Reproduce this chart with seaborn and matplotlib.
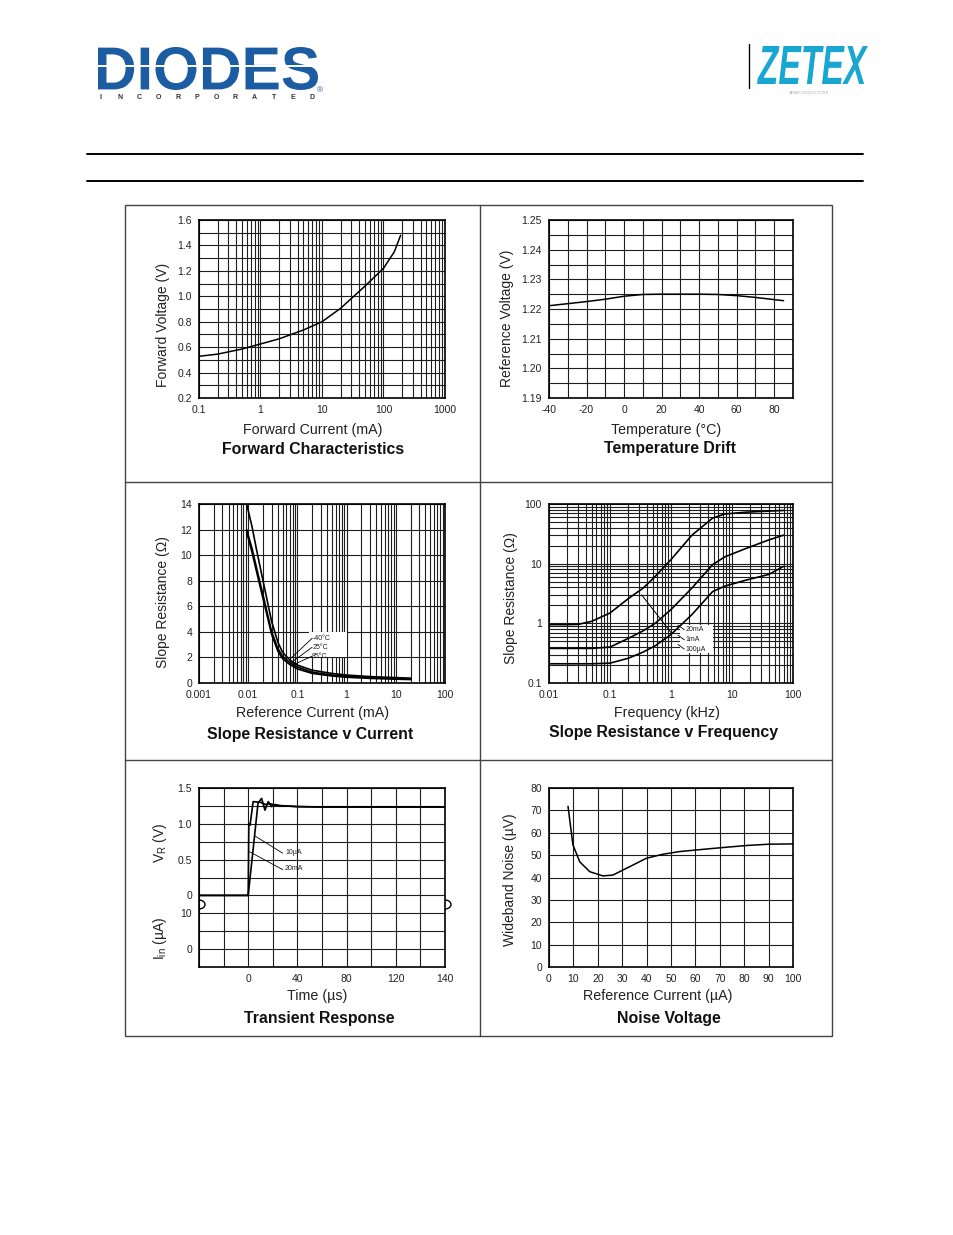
""" Datasheet page with six typical characteristic charts, redrawn with seaborn """
import numpy as np
import matplotlib
matplotlib.use('Agg')
import matplotlib.pyplot as plt
import seaborn as sns
from matplotlib.ticker import FixedLocator, LogLocator, MultipleLocator, NullFormatter
from matplotlib.patches import Rectangle, Arc, PathPatch
from matplotlib.textpath import TextPath
from matplotlib.font_manager import FontProperties
from matplotlib.transforms import Affine2D

""" Forward characteristics """
fwd_current = [0.1, 0.2, 0.5, 1, 2, 5, 10, 20, 50, 100, 150, 190]
fwd_voltage = [0.528, 0.545, 0.585, 0.625, 0.665, 0.735, 0.80, 0.905, 1.08, 1.22, 1.35, 1.48]

""" Temperature drift """
drift_temp = [-40, -30, -20, -10, 0, 10, 20, 30, 40, 50, 60, 70, 85]
drift_vref = [1.2211, 1.2218, 1.2225, 1.2233, 1.2243, 1.2249, 1.2250, 1.2250,
              1.2250, 1.2249, 1.2245, 1.2239, 1.2228]

""" Slope resistance v current, three temperatures """
sr_current = [0.0093, 0.012, 0.015, 0.02, 0.03, 0.04, 0.05, 0.07, 0.1, 0.2, 0.5, 1, 3, 10, 20]
sr_m40 = [14.0, 12.2, 10.3, 8.0, 4.8, 3.2, 2.4, 1.8, 1.4, 1.0, 0.75, 0.62, 0.5, 0.42, 0.38]
sr_25 = [12.0, 10.5, 8.9, 6.9, 4.0, 2.7, 2.1, 1.6, 1.25, 0.85, 0.62, 0.52, 0.42, 0.35, 0.32]
sr_85 = [11.8, 10.2, 8.6, 6.6, 3.8, 2.5, 1.9, 1.45, 1.1, 0.75, 0.55, 0.45, 0.36, 0.30, 0.27]
sr_temp_labels = ['-40°C', '25°C', '85°C']

""" Slope resistance v frequency, three currents """
sf_freq = [0.01, 0.02, 0.03, 0.05, 0.1, 0.2, 0.35, 0.55, 1, 2.2, 4.8, 7.6, 17, 40, 70]
sf_20ma = [0.95, 0.95, 0.96, 1.08, 1.49, 2.6, 3.9, 6.1, 11.7, 30, 58, 68, 73, 76, 78]
sf_1ma = [0.38, 0.38, 0.38, 0.38, 0.40, 0.56, 0.75, 1.0, 1.7, 3.9, 9.6, 13, 18, 25, 30]
sf_100ua = [0.21, 0.21, 0.21, 0.21, 0.215, 0.26, 0.33, 0.42, 0.65, 1.4, 3.4, 4.2, 5.3, 6.6, 9.0]
sf_labels = ['20mA', '1mA', '100µA']

""" Transient response """
tr_time_fast = [-40, 0, 0.5, 1.5, 4, 10, 14, 18, 22, 30, 40, 60, 160]
tr_v_fast = [0, 0, 1.0, 0.98, 1.31, 1.30, 1.27, 1.28, 1.26, 1.25, 1.24, 1.235, 1.235]
tr_time_slow = [-40, 0, 8, 10.9, 13.6, 16.3, 19, 22, 26, 30, 40, 60, 160]
tr_v_slow = [0, 0, 1.29, 1.355, 1.19, 1.31, 1.24, 1.27, 1.25, 1.25, 1.24, 1.235, 1.235]
tr_labels = ['10µA', '20mA']
tr_xticks = [0, 40, 80, 120, 160]
tr_xticklabels = ['0', '40', '80', '120', '140']
tr_yticks = [1.5, 1.0, 0.5, 0, -0.25, -0.75]
tr_yticklabels = ['1.5', '1.0', '0.5', '0', '10', '0']

""" Noise voltage """
nz_current = [7.8, 9.8, 12.6, 16.7, 22.1, 26.2, 33, 39.9, 46.7, 53.6, 67.2, 80.9, 90.4, 100]
nz_noise = [71.8, 54.6, 47.0, 42.6, 40.7, 41.1, 44.8, 48.6, 50.4, 51.6, 53.0, 54.3, 54.9, 55.0]

W, H = 954, 1235
sns.set_style('white')
plt.rcParams['font.family'] = ['Liberation Sans', 'DejaVu Sans']
plt.rcParams['axes.unicode_minus'] = False

fig = plt.figure(figsize=(W / 100, H / 100), dpi=100)

""" Page decoration drawn in pixel coordinates, on top of the chart axes """
bg = fig.add_axes([0, 0, 1, 1])
bg.set_xlim(0, W)
bg.set_ylim(H, 0)
bg.axis('off')
bg.patch.set_visible(False)
bg.set_zorder(5)


def logo_text(s, box, color, **font):
    tp = TextPath((0, 0), s, size=100, prop=FontProperties(**font))
    ext = tp.get_extents()
    x0, y0, x1, y1 = box
    tr = (Affine2D().translate(-ext.x0, -ext.y0)
          .scale((x1 - x0) / ext.width, -(y1 - y0) / ext.height)
          .translate(x0, y1))
    bg.add_patch(PathPatch(tr.transform_path(tp), facecolor=color, lw=0))


logo_text('DIODES', (98, 47, 318, 90), '#1b5ca2', family='Liberation Sans', weight='bold')
bg.plot([98, 318], [66, 66], color='white', lw=1.4)
for i, ch in enumerate('INCORPORATED'):
    bg.text(101 + i * 19.2, 97.5, ch, ha='center', va='center', fontsize=5,
            fontweight='bold', color='#333333')
bg.text(320, 91, '®', ha='center', va='center', fontsize=6, color='#1b5ca2')
bg.plot([749, 749], [44, 88], color='black', lw=1)
logo_text('ZETEX', (757, 46, 868, 84), '#19a7d1', family='Liberation Sans',
          weight='bold', style='italic')
bg.text(809, 93, 'SEMICONDUCTORS', ha='center', va='center', fontsize=3,
        color='#aaaaaa')

bg.plot([87, 863], [154, 154], color='black', lw=1.4)
bg.plot([87, 863], [181, 181], color='black', lw=1.4)
bg.add_patch(Rectangle((125, 205), 707, 831, fill=False, edgecolor='#444444', lw=1))
bg.plot([480, 480], [205, 1036], color='#444444', lw=1)
bg.plot([125, 832], [482, 482], color='#444444', lw=1)
bg.plot([125, 832], [760, 760], color='#444444', lw=1)
# break marks on the transient chart
for xb in (199, 445):
    bg.add_patch(Arc((xb, 904.5), 12, 9, theta1=270, theta2=90, color='black', lw=1))


def ptext(x, y, s, **kw):
    fig.text(x / W, 1 - y / H, s, ha='center', va='center', **kw)


def panel(rect):
    l, t, r, b = rect
    ax = fig.add_axes([l / W, 1 - b / H, (r - l) / W, (b - t) / H])
    ax.tick_params(which='both', length=0, labelsize=7.5, colors='#222222', pad=5)
    for s in ax.spines.values():
        s.set_linewidth(1.2)
        s.set_color('black')
    ax.set_axisbelow(True)
    ax.grid(True, which='both', color='#1e1e1e', lw=0.8)
    return ax


def curve(ax, x, y, lw=1.1):
    sns.lineplot(x=x, y=y, ax=ax, color='black', linewidth=lw, estimator=None, sort=False)


LBL = dict(fontsize=10.3, color='#222222')
TTL = dict(fontsize=11.4, fontweight='bold', color='#111111')
YLB = dict(fontsize=10, color='#222222', rotation=90)

""" Forward Characteristics """
ax1 = panel((199, 220, 445, 398))
ax1.set_xscale('log')
ax1.set_xlim(0.1, 1000)
ax1.set_ylim(0.2, 1.6)
ax1.xaxis.set_major_locator(FixedLocator([0.1, 1, 10, 100, 1000]))
ax1.xaxis.set_minor_locator(LogLocator(subs=range(2, 10)))
ax1.xaxis.set_minor_formatter(NullFormatter())
ax1.set_xticklabels(['0.1', '1', '10', '100', '1000'])
ax1.yaxis.set_major_locator(MultipleLocator(0.2))
ax1.yaxis.set_minor_locator(MultipleLocator(0.1))
ax1.yaxis.set_major_formatter('{x:.1f}')
curve(ax1, fwd_current, fwd_voltage)
ptext(163, 325, 'Forward Voltage (V)', **YLB)
ptext(313, 430, 'Forward Current (mA)', **LBL)
ptext(313, 449, 'Forward Characteristics', **TTL)

""" Temperature Drift """
ax2 = panel((549, 220, 793, 398))
ax2.set_xlim(-40, 90)
ax2.set_ylim(1.19, 1.25)
ax2.xaxis.set_major_locator(FixedLocator([-40, -20, 0, 20, 40, 60, 80]))
ax2.xaxis.set_minor_locator(MultipleLocator(10))
ax2.set_xticklabels(['-40', '-20', '0', '20', '40', '60', '80'])
ax2.yaxis.set_major_locator(MultipleLocator(0.01))
ax2.yaxis.set_minor_locator(MultipleLocator(0.005))
ax2.yaxis.set_major_formatter('{x:.2f}')
curve(ax2, drift_temp, drift_vref)
ptext(507, 318, 'Reference Voltage (V)', **YLB)
ptext(666, 430, 'Temperature (°C)', **LBL)
ptext(670, 449, 'Temperature Drift', **TTL)

""" Slope Resistance v Current """
ax3 = panel((199, 504, 445, 683))
ax3.set_xscale('log')
ax3.set_xlim(0.001, 100)
ax3.set_ylim(0, 14)
ax3.xaxis.set_major_locator(FixedLocator([0.001, 0.01, 0.1, 1, 10, 100]))
ax3.xaxis.set_minor_locator(LogLocator(subs=range(2, 10)))
ax3.xaxis.set_minor_formatter(NullFormatter())
ax3.set_xticklabels(['0.001', '0.01', '0.1', '1', '10', '100'])
ax3.yaxis.set_major_locator(MultipleLocator(2))
ax3.add_patch(Rectangle((0.17, 2.0), 0.83, 2.0, facecolor='white', edgecolor='none', zorder=1))
for ys in (sr_m40, sr_25, sr_85):
    curve(ax3, sr_current, ys, lw=1.2)
for lab, (y_txt, x_end, y_end) in zip(sr_temp_labels,
                                      [(3.5, 0.07, 1.85), (2.8, 0.075, 1.6), (2.1, 0.085, 1.45)]):
    ax3.plot([x_end, 0.2], [y_end, y_txt], color='black', lw=0.6)
    ax3.text(0.2, y_txt, lab, fontsize=5, va='center', ha='left', color='#222222')
ptext(163, 602, 'Slope Resistance (Ω)', **YLB)
ptext(313, 713, 'Reference Current (mA)', **LBL)
ptext(310, 735, 'Slope Resistance v Current', **TTL)

""" Slope Resistance v Frequency """
ax4 = panel((549, 504, 793, 683))
ax4.set_xscale('log')
ax4.set_yscale('log')
ax4.set_xlim(0.01, 100)
ax4.set_ylim(0.1, 100)
ax4.xaxis.set_major_locator(FixedLocator([0.01, 0.1, 1, 10, 100]))
ax4.xaxis.set_minor_locator(LogLocator(subs=range(2, 10)))
ax4.xaxis.set_minor_formatter(NullFormatter())
ax4.set_xticklabels(['0.01', '0.1', '1', '10', '100'])
ax4.yaxis.set_major_locator(FixedLocator([0.1, 1, 10, 100]))
ax4.yaxis.set_minor_locator(LogLocator(subs=range(2, 10)))
ax4.yaxis.set_minor_formatter(NullFormatter())
ax4.set_yticklabels(['0.1', '1', '10', '100'])
ax4.add_patch(Rectangle((1.4, 0.32), 3.5, 0.62, facecolor='white', edgecolor='none', zorder=1))
for ys in (sf_20ma, sf_1ma, sf_100ua):
    curve(ax4, sf_freq, ys, lw=1.2)
ax4.plot([0.33, 1.0], [3.0, 0.7], color='black', lw=0.7)
for lab, y_txt in zip(sf_labels, [0.78, 0.53, 0.37]):
    ax4.plot([1.3, 1.65], [y_txt * 1.2, y_txt], color='black', lw=0.6)
    ax4.text(1.75, y_txt, lab, fontsize=5, va='center', ha='left', color='#222222')
ptext(511, 598, 'Slope Resistance (Ω)', **YLB)
ptext(667, 713, 'Frequency (kHz)', **LBL)
ptext(664, 733, 'Slope Resistance v Frequency', **TTL)

""" Transient Response """
ax5 = panel((199, 788, 445, 967))
ax5.set_xlim(-40, 160)
ax5.set_ylim(-1.0, 1.5)
ax5.xaxis.set_major_locator(FixedLocator(tr_xticks))
ax5.xaxis.set_minor_locator(MultipleLocator(20))
ax5.set_xticklabels(tr_xticklabels)
ax5.yaxis.set_major_locator(FixedLocator(tr_yticks))
ax5.yaxis.set_minor_locator(MultipleLocator(0.25))
ax5.set_yticklabels(tr_yticklabels)
curve(ax5, tr_time_fast, tr_v_fast, lw=1.2)
curve(ax5, tr_time_slow, tr_v_slow, lw=1.2)
for lab, (x0, y0, y1) in zip(tr_labels, [(5.5, 0.83, 0.59), (1.1, 0.61, 0.36)]):
    ax5.plot([x0, 28], [y0, y1], color='black', lw=0.6)
    ax5.text(30, y1 + 0.01, lab, fontsize=5, va='center', ha='left', color='#222222')
ptext(160, 843, r'$\mathregular{V_R}$ (V)', fontsize=10, color='#222222', rotation=90)
ptext(160, 938, r'$\mathregular{I_{in}}$ (µA)', fontsize=10, color='#222222', rotation=90)
ptext(317, 996, 'Time (µs)', **LBL)
ptext(319, 1019, 'Transient Response', **TTL)

""" Noise Voltage """
ax6 = panel((549, 788, 793, 967))
ax6.set_xlim(0, 100)
ax6.set_ylim(0, 80)
ax6.xaxis.set_major_locator(MultipleLocator(10))
ax6.yaxis.set_major_locator(MultipleLocator(10))
curve(ax6, nz_current, nz_noise)
ptext(510, 880, 'Wideband Noise (µV)', **YLB)
ptext(658, 996, 'Reference Current (µA)', **LBL)
ptext(669, 1019, 'Noise Voltage', **TTL)

fig.savefig('out.png', dpi=100)
